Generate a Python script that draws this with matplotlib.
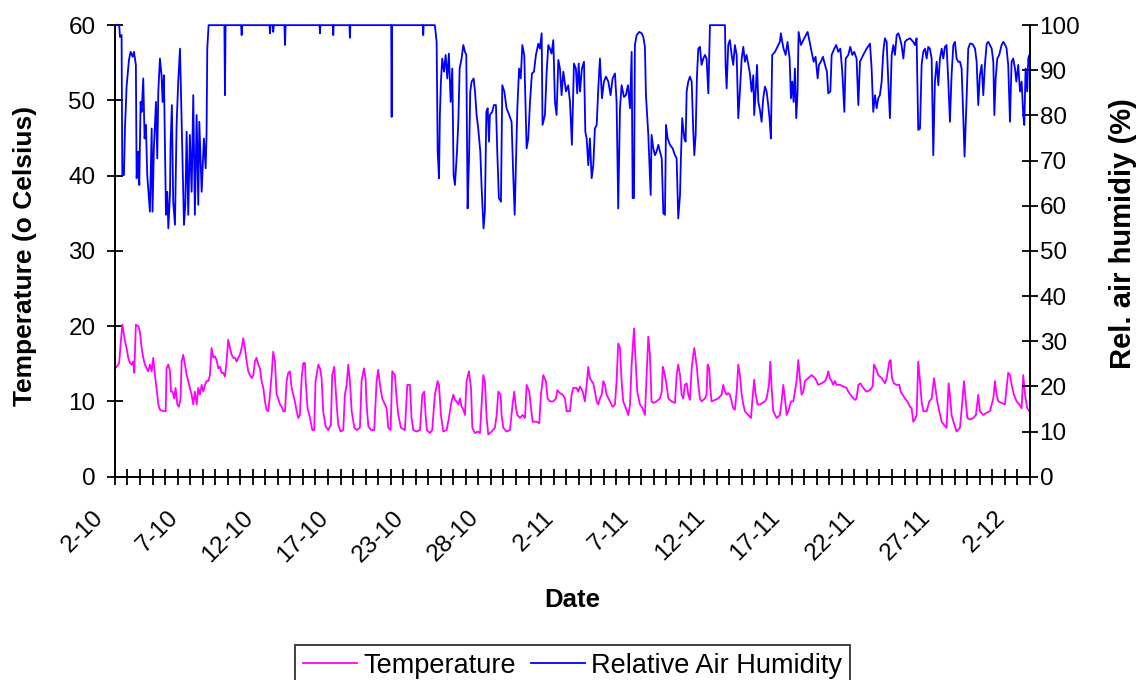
import numpy as np
import matplotlib
matplotlib.use('Agg')
import matplotlib.pyplot as plt
from matplotlib.transforms import ScaledTranslation

plt.rcParams['font.family'] = ['Liberation Sans', 'DejaVu Sans']

# readings; x = position along the date axis in days from 2-10
temp_day = [
    0.00, 0.11, 0.29, 0.38, 0.50, 0.56, 0.68, 0.79, 0.90, 1.02,
    1.13, 1.24, 1.31, 1.42, 1.58, 1.69, 1.81, 1.92, 2.03, 2.15,
    2.26, 2.37, 2.49, 2.60, 2.71, 2.82, 2.94, 3.05, 3.28, 3.44,
    3.50, 3.62, 3.73, 3.80, 3.91, 4.02, 4.11, 4.23, 4.34, 4.45,
    4.52, 4.63, 4.75, 4.86, 4.97, 5.08, 5.20, 5.31, 5.42, 5.54,
    5.65, 5.76, 5.88, 5.99, 6.10, 6.21, 6.33, 6.44, 6.55, 6.67,
    6.78, 6.89, 7.01, 7.12, 7.23, 7.34, 7.46, 7.57, 7.68, 7.80,
    7.91, 8.02, 8.14, 8.25, 8.36, 8.47, 8.59, 8.70, 8.81, 8.93,
    9.04, 9.15, 9.27, 9.38, 9.49, 9.60, 9.72, 9.83, 9.94, 10.06,
    10.17, 10.28, 10.40, 10.51, 10.62, 10.73, 10.85, 10.96, 11.07, 11.19,
    11.30, 11.41, 11.53, 11.64, 11.75, 11.86, 11.98, 12.09, 12.20, 12.32,
    12.43, 12.54, 12.66, 12.77, 12.88, 12.93, 13.06, 13.22, 13.38, 13.51,
    13.60, 13.79, 13.90, 14.01, 14.12, 14.28, 14.46, 14.64, 14.73, 14.87,
    14.96, 15.03, 15.14, 15.30, 15.48, 15.59, 15.71, 15.82, 15.93, 16.05,
    16.23, 16.38, 16.61, 16.72, 16.88, 16.99, 17.06, 17.18, 17.36, 17.58,
    17.74, 17.85, 17.97, 18.12, 18.26, 18.42, 18.53, 18.69, 18.80, 18.98,
    19.10, 19.21, 19.39, 19.66, 19.82, 20.00, 20.11, 20.23, 20.45, 20.68,
    20.84, 20.97, 21.06, 21.15, 21.36, 21.51, 21.69, 21.88, 21.97, 22.10,
    22.26, 22.49, 22.64, 22.82, 22.94, 23.05, 23.16, 23.28, 23.39, 23.50,
    23.62, 23.73, 23.84, 24.00, 24.14, 24.23, 24.41, 24.59, 24.75, 24.97,
    25.08, 25.20, 25.31, 25.54, 25.76, 25.88, 25.99, 26.15, 26.21, 26.33,
    26.55, 26.78, 26.96, 27.07, 27.19, 27.28, 27.46, 27.64, 27.80, 27.91,
    28.09, 28.18, 28.32, 28.59, 28.77, 28.88, 29.04, 29.22, 29.33, 29.49,
    29.72, 29.90, 29.99, 30.17, 30.35, 30.51, 30.62, 30.85, 30.96, 31.07,
    31.30, 31.41, 31.53, 31.71, 31.86, 31.98, 32.09, 32.20, 32.32, 32.43,
    32.54, 32.66, 32.77, 32.88, 33.00, 33.11, 33.22, 33.33, 33.56, 33.74,
    33.90, 34.01, 34.12, 34.24, 34.35, 34.46, 34.64, 34.80, 34.92, 35.03,
    35.19, 35.30, 35.41, 35.59, 35.77, 35.93, 36.05, 36.16, 36.27, 36.38,
    36.50, 36.72, 36.95, 37.07, 37.14, 37.23, 37.36, 37.52, 37.74, 37.97,
    38.08, 38.19, 38.31, 38.42, 38.53, 38.64, 38.76, 38.87, 38.98, 39.10,
    39.21, 39.28, 39.37, 39.46, 39.55, 39.66, 39.77, 40.00, 40.11, 40.18,
    40.29, 40.36, 40.45, 40.68, 40.90, 41.13, 41.24, 41.36, 41.47, 41.58,
    41.69, 41.81, 41.92, 42.03, 42.15, 42.26, 42.37, 42.49, 42.60, 42.71,
    42.94, 43.12, 43.21, 43.34, 43.44, 43.57, 43.73, 43.89, 44.07, 44.18,
    44.34, 44.43, 44.52, 44.63, 44.86, 45.08, 45.20, 45.31, 45.42, 45.54,
    45.65, 45.83, 45.99, 46.10, 46.21, 46.33, 46.44, 46.55, 46.67, 46.78,
    47.01, 47.23, 47.35, 47.46, 47.57, 47.68, 47.91, 48.14, 48.25, 48.36,
    48.47, 48.59, 48.70, 48.81, 48.93, 49.15, 49.38, 49.60, 49.72, 49.94,
    50.17, 50.28, 50.40, 50.55, 50.73, 50.96, 51.19, 51.37, 51.46, 51.59,
    51.75, 51.98, 52.20, 52.32, 52.50, 52.59, 52.68, 52.81, 52.99, 53.18,
    53.27, 53.40, 53.56, 53.72, 53.90, 54.01, 54.12, 54.24, 54.35, 54.46,
    54.58, 54.69, 54.80, 55.03, 55.21, 55.37, 55.53, 55.62, 55.75, 55.89,
    56.05, 56.20, 56.38, 56.52, 56.61, 56.72, 56.88, 57.06, 57.29, 57.47,
    57.56, 57.67, 57.79, 57.97, 58.19, 58.37, 58.53, 58.64, 58.87, 59.10,
    59.32, 59.55, 59.66, 59.77, 59.89, 60.11, 60.34, 60.45, 60.56, 60.68,
    60.79, 60.95, 61.13, 61.31, 61.47, 61.58, 61.70, 61.85, 61.99, 62.03,
]
temp_c = [
    14.4, 14.6, 15.1, 17.5, 20.2, 19.5, 18.0, 17.1, 15.8, 15.1,
    14.9, 15.3, 13.8, 20.2, 20.0, 19.3, 17.1, 15.8, 14.9, 14.4,
    14.0, 14.9, 14.0, 15.8, 13.5, 11.8, 9.6, 8.9, 8.7, 8.7,
    14.4, 14.9, 14.0, 11.3, 11.3, 10.4, 11.8, 9.6, 9.3, 10.4,
    15.3, 16.2, 14.9, 13.5, 12.7, 11.8, 10.9, 9.6, 11.3, 9.6,
    11.8, 10.9, 12.2, 11.3, 12.2, 12.7, 12.7, 13.5, 17.1, 15.8,
    16.0, 15.5, 14.4, 14.6, 13.8, 13.8, 13.3, 15.3, 18.2, 17.1,
    16.2, 15.8, 15.8, 15.3, 15.8, 16.2, 17.1, 18.4, 17.1, 15.3,
    14.0, 13.5, 13.1, 13.5, 15.3, 15.8, 14.9, 14.4, 12.7, 11.8,
    10.0, 8.9, 8.7, 10.9, 13.5, 16.6, 15.3, 10.9, 10.4, 9.6,
    9.3, 8.7, 8.7, 12.7, 13.8, 14.0, 11.8, 10.9, 10.0, 8.7,
    7.8, 8.2, 13.1, 15.1, 15.1, 12.7, 9.1, 7.8, 6.2, 6.2,
    12.7, 14.9, 14.4, 13.1, 8.7, 6.7, 6.2, 6.9, 13.5, 14.6,
    11.8, 9.6, 6.9, 6.0, 6.2, 10.9, 12.2, 14.9, 12.7, 8.7,
    6.5, 6.2, 6.5, 12.7, 14.4, 13.1, 9.6, 6.7, 6.2, 6.2,
    12.7, 14.2, 12.2, 10.4, 9.8, 9.1, 6.5, 6.2, 14.0, 13.5,
    10.4, 8.2, 6.5, 6.2, 12.2, 12.2, 7.8, 6.2, 6.0, 6.2,
    10.9, 11.3, 8.2, 6.2, 5.8, 6.2, 10.9, 12.7, 12.2, 8.2,
    6.0, 6.2, 7.8, 10.0, 10.9, 10.2, 10.0, 9.6, 10.4, 9.3,
    8.9, 8.2, 12.7, 14.0, 11.8, 6.5, 5.8, 6.0, 5.8, 13.5,
    12.7, 7.8, 5.6, 6.0, 6.5, 8.2, 11.3, 10.9, 8.2, 6.5,
    6.0, 6.2, 9.6, 11.3, 9.1, 8.2, 7.8, 8.2, 7.8, 12.2,
    11.3, 9.6, 7.3, 7.3, 7.1, 10.9, 13.5, 12.7, 10.4, 10.0,
    10.0, 10.4, 11.5, 11.1, 10.9, 10.4, 8.7, 8.7, 10.9, 11.8,
    11.8, 11.3, 12.0, 11.3, 10.0, 12.2, 14.6, 13.1, 12.7, 12.4,
    11.3, 10.0, 9.6, 10.4, 10.9, 12.7, 12.2, 10.9, 10.0, 9.3,
    9.6, 12.7, 17.7, 17.1, 12.7, 10.0, 9.1, 8.2, 9.6, 14.9,
    19.7, 15.3, 11.3, 9.6, 9.1, 8.2, 13.5, 18.6, 16.2, 10.0,
    9.8, 10.0, 10.4, 11.3, 14.6, 14.0, 12.7, 10.4, 10.0, 9.8,
    13.5, 14.9, 13.5, 10.9, 10.4, 12.2, 12.4, 10.9, 10.2, 14.4,
    16.2, 17.1, 15.8, 14.4, 12.2, 10.4, 10.0, 10.4, 10.9, 14.9,
    14.4, 11.8, 10.0, 10.2, 10.4, 10.9, 12.2, 11.3, 10.9, 11.1,
    10.9, 10.0, 9.1, 8.9, 11.3, 14.9, 13.5, 10.9, 9.6, 8.7,
    8.2, 7.8, 10.0, 12.9, 10.9, 9.6, 9.6, 9.8, 10.0, 10.4,
    12.2, 15.3, 11.8, 8.7, 7.8, 8.2, 10.0, 12.2, 10.4, 8.2,
    8.7, 10.0, 10.0, 11.3, 12.7, 15.5, 13.1, 10.9, 11.3, 12.7,
    13.1, 13.5, 13.3, 13.1, 12.7, 12.2, 12.4, 12.7, 13.1, 14.0,
    13.1, 12.7, 12.2, 12.7, 12.2, 12.2, 12.0, 11.8, 11.3, 10.7,
    10.2, 10.4, 12.2, 12.4, 11.8, 11.3, 11.5, 12.0, 14.9, 14.4,
    13.5, 13.1, 12.4, 13.1, 15.3, 15.5, 13.1, 12.4, 12.2, 12.2,
    11.3, 10.9, 10.4, 10.0, 9.3, 9.1, 7.3, 7.6, 8.2, 15.3,
    12.7, 10.0, 8.7, 8.7, 10.0, 10.4, 13.1, 11.8, 10.0, 8.7,
    7.3, 6.9, 6.5, 12.4, 10.9, 8.2, 7.1, 6.0, 6.5, 10.4,
    12.7, 10.4, 7.8, 7.6, 7.8, 8.2, 10.9, 8.7, 8.2, 8.5,
    8.7, 10.4, 12.7, 10.9, 10.0, 9.8, 9.6, 11.8, 13.8, 13.5,
    12.2, 10.9, 10.0, 9.6, 9.1, 13.5, 10.9, 9.1, 8.7, 8.7,
]

rh_day = [
    0.00, 0.29, 0.34, 0.45, 0.50, 0.61, 0.68, 0.79, 0.95, 1.06,
    1.20, 1.29, 1.42, 1.47, 1.58, 1.65, 1.74, 1.81, 1.92, 2.01,
    2.10, 2.19, 2.37, 2.49, 2.55, 2.64, 2.78, 2.87, 2.94, 3.05,
    3.16, 3.23, 3.32, 3.46, 3.55, 3.62, 3.73, 3.77, 3.86, 3.95,
    4.07, 4.18, 4.29, 4.41, 4.52, 4.68, 4.77, 4.86, 4.97, 5.08,
    5.20, 5.31, 5.42, 5.54, 5.65, 5.72, 5.88, 6.03, 6.15, 6.21,
    6.26, 6.35, 7.42, 7.46, 7.50, 8.55, 8.59, 8.63, 10.48, 10.51,
    10.55, 10.70, 10.73, 10.77, 11.49, 11.53, 11.57, 13.87, 13.90, 13.93,
    14.77, 14.80, 14.83, 15.90, 15.93, 15.96, 18.73, 18.76, 18.79, 20.87,
    20.90, 20.93, 21.69, 21.81, 21.88, 21.97, 22.03, 22.10, 22.19, 22.31,
    22.42, 22.53, 22.64, 22.76, 22.87, 22.96, 23.05, 23.19, 23.28, 23.37,
    23.50, 23.62, 23.73, 23.82, 23.91, 24.00, 24.09, 24.18, 24.32, 24.41,
    24.52, 24.63, 24.77, 24.86, 24.99, 25.08, 25.18, 25.27, 25.36, 25.42,
    25.58, 25.69, 25.83, 25.92, 26.03, 26.17, 26.26, 26.40, 26.55, 26.73,
    26.89, 27.01, 27.10, 27.19, 27.28, 27.40, 27.51, 27.62, 27.75, 27.91,
    28.02, 28.14, 28.27, 28.41, 28.54, 28.70, 28.81, 28.93, 28.99, 29.15,
    29.27, 29.38, 29.49, 29.60, 29.72, 29.83, 29.94, 30.06, 30.17, 30.28,
    30.40, 30.58, 30.73, 30.85, 30.98, 31.12, 31.25, 31.34, 31.44, 31.53,
    31.66, 31.80, 31.89, 31.98, 32.09, 32.20, 32.32, 32.43, 32.54, 32.66,
    32.77, 32.88, 33.02, 33.15, 33.29, 33.45, 33.60, 33.74, 33.90, 34.01,
    34.12, 34.24, 34.35, 34.51, 34.64, 34.78, 34.92, 35.03, 35.10, 35.19,
    35.25, 35.37, 35.55, 35.71, 35.82, 35.93, 36.00, 36.16, 36.32, 36.38,
    36.50, 36.61, 36.72, 36.84, 36.95, 37.07, 37.18, 37.29, 37.36, 37.47,
    37.63, 37.81, 37.97, 38.08, 38.19, 38.31, 38.37, 38.46, 38.60, 38.69,
    38.76, 38.87, 38.98, 39.10, 39.21, 39.28, 39.37, 39.46, 39.55, 39.66,
    39.77, 39.89, 40.00, 40.11, 40.23, 40.34, 41.36, 41.40, 41.47, 41.58,
    41.69, 41.81, 41.92, 42.03, 42.15, 42.26, 42.37, 42.49, 42.60, 42.71,
    42.82, 42.94, 43.05, 43.16, 43.28, 43.34, 43.44, 43.53, 43.62, 43.73,
    43.84, 43.95, 44.07, 44.18, 44.29, 44.38, 44.47, 44.56, 44.75, 44.97,
    45.08, 45.15, 45.24, 45.33, 45.47, 45.60, 45.74, 45.83, 45.92, 46.01,
    46.10, 46.19, 46.28, 46.35, 46.51, 46.67, 46.78, 46.96, 47.10, 47.23,
    47.37, 47.50, 47.64, 47.73, 47.86, 48.00, 48.14, 48.27, 48.36, 48.50,
    48.59, 48.77, 48.90, 49.04, 49.18, 49.31, 49.45, 49.54, 49.72, 49.85,
    49.99, 50.12, 50.28, 50.40, 50.51, 50.73, 50.96, 51.19, 51.30, 51.41,
    51.53, 51.64, 51.75, 51.86, 51.98, 52.09, 52.20, 52.32, 52.43, 52.54,
    52.66, 52.77, 52.88, 53.00, 53.11, 53.22, 53.33, 53.45, 53.56, 53.67,
    53.90, 54.12, 54.24, 54.35, 54.46, 54.58, 54.69, 54.80, 54.92, 55.03,
    55.14, 55.25, 55.37, 55.48, 55.59, 55.71, 55.82, 55.93, 56.05, 56.16,
    56.27, 56.38, 56.50, 56.61, 56.72, 56.84, 56.95, 57.06, 57.18, 57.29,
    57.40, 57.51, 57.60, 57.74, 57.85, 57.97, 58.08, 58.19, 58.31, 58.42,
    58.53, 58.64, 58.76, 58.87, 58.98, 59.10, 59.21, 59.32, 59.44, 59.55,
    59.62, 59.71, 59.82, 59.95, 60.11, 60.23, 60.36, 60.45, 60.56, 60.68,
    60.79, 60.90, 61.02, 61.11, 61.24, 61.36, 61.47, 61.58, 61.65, 61.74,
    61.85, 61.92, 61.99, 62.03,
]
rh_pct = [
    100, 100, 97.4, 97.8, 66.8, 66.8, 77.1, 86.4, 92.3, 94.1,
    93.0, 94.1, 91.2, 66.1, 72.0, 64.6, 83.0, 80.8, 88.2, 74.9,
    77.9, 66.8, 58.7, 77.1, 58.7, 72.7, 83.0, 70.5, 85.3, 92.6,
    88.9, 83.0, 88.9, 58.0, 63.1, 55.0, 62.4, 73.5, 82.3, 60.9,
    55.8, 77.9, 87.5, 94.8, 78.6, 55.8, 60.2, 76.4, 58.0, 75.7,
    63.1, 84.5, 58.0, 80.1, 60.2, 78.6, 63.1, 74.9, 68.3, 75.7,
    94.8, 100, 100, 84.5, 100, 100, 97.8, 100, 100, 98.2,
    100, 100, 98.5, 100, 100, 95.6, 100, 100, 98.2, 100,
    100, 97.8, 100, 100, 97.2, 100, 100, 79.7, 100, 100,
    97.8, 100, 100, 96.3, 72.0, 66.1, 80.1, 87.5, 92.6, 89.7,
    93.4, 88.2, 93.7, 83.0, 90.4, 66.8, 64.6, 72.0, 78.6, 90.4,
    92.6, 95.6, 94.1, 93.4, 59.4, 69.8, 85.3, 87.5, 88.2, 85.3,
    80.1, 77.1, 72.0, 63.9, 55.0, 58.7, 80.8, 81.6, 74.2, 80.1,
    80.8, 82.3, 82.3, 72.0, 61.7, 60.9, 86.7, 85.3, 81.6, 80.1,
    78.6, 66.1, 58.0, 69.8, 81.6, 90.4, 88.2, 95.6, 93.4, 72.7,
    74.9, 83.0, 89.3, 89.7, 93.4, 95.9, 94.8, 98.2, 77.9, 80.1,
    89.7, 95.6, 94.8, 93.7, 96.7, 83.0, 80.1, 92.3, 90.4, 84.5,
    89.7, 85.3, 86.7, 83.0, 73.5, 91.5, 90.4, 84.9, 91.5, 85.3,
    90.4, 91.9, 76.4, 74.9, 69.0, 74.9, 66.1, 69.0, 77.1, 77.9,
    86.0, 92.6, 83.8, 87.5, 88.6, 87.5, 84.5, 88.2, 89.3, 83.0,
    59.4, 81.6, 86.7, 84.1, 84.5, 86.7, 81.6, 94.1, 61.7, 61.7,
    95.6, 97.8, 98.5, 98.2, 97.4, 95.2, 84.5, 75.7, 62.4, 75.7,
    72.7, 71.2, 72.0, 73.5, 72.0, 70.5, 58.3, 58.0, 77.9, 74.9,
    73.5, 72.7, 71.2, 70.5, 57.2, 62.4, 70.5, 79.4, 74.9, 74.2,
    85.3, 87.5, 88.6, 87.5, 76.4, 71.2, 75.7, 88.9, 94.8, 95.2,
    91.2, 92.6, 93.4, 92.6, 84.9, 100, 100, 91.2, 86.0, 95.6,
    96.7, 93.4, 91.2, 95.6, 93.4, 79.4, 85.3, 92.6, 95.2, 91.9,
    93.4, 91.2, 89.3, 85.3, 88.9, 80.1, 85.3, 91.2, 83.0, 81.2,
    78.6, 83.8, 86.4, 85.3, 82.3, 79.4, 74.9, 93.4, 94.1, 95.6,
    96.3, 98.2, 96.3, 94.8, 93.4, 96.3, 92.6, 83.8, 87.5, 83.0,
    90.4, 79.4, 85.3, 98.5, 95.6, 96.7, 97.4, 98.5, 96.3, 94.1,
    91.9, 93.0, 88.2, 91.2, 91.9, 93.0, 91.2, 89.7, 84.9, 85.3,
    93.4, 94.8, 95.6, 94.1, 94.8, 89.7, 80.8, 92.6, 93.4, 95.2,
    93.4, 94.1, 92.6, 82.3, 91.9, 93.4, 94.8, 95.9, 90.4, 80.8,
    84.5, 81.6, 83.8, 84.5, 87.5, 94.1, 97.1, 96.3, 87.5, 79.4,
    93.4, 95.6, 93.4, 97.8, 98.2, 97.1, 95.6, 92.6, 96.3, 96.7,
    97.1, 96.3, 95.6, 97.1, 76.8, 77.1, 91.2, 94.1, 94.8, 92.6,
    95.2, 94.8, 92.6, 71.2, 87.5, 91.9, 86.7, 92.6, 94.8, 92.6,
    95.2, 95.6, 87.5, 78.6, 88.9, 95.6, 96.3, 92.6, 91.9, 91.9,
    90.4, 80.1, 70.9, 83.8, 94.8, 95.9, 95.9, 95.6, 94.8, 91.9,
    82.3, 88.9, 91.2, 84.5, 91.2, 95.9, 96.3, 95.6, 94.8, 91.9,
    80.1, 88.2, 92.6, 93.4, 95.6, 96.3, 95.6, 94.8, 91.2, 78.6,
    91.9, 92.6, 90.4, 87.5, 91.2, 85.3, 87.5, 80.1, 77.9, 90.4,
    85.3, 92.6, 93.4, 93.4,
]

date_labels = ['2-10', '7-10', '12-10', '17-10', '23-10', '28-10', '2-11',
               '7-11', '12-11', '17-11', '22-11', '27-11', '2-12']
x_end = 62.03      # right end of the date axis
n_tick_steps = 73  # tick marks along the date axis, a label on every 6th

fig = plt.figure(figsize=(11.38, 6.8), dpi=100)
ax = fig.add_axes([0.101, 0.299, 0.804, 0.664])
ax2 = ax.twinx()

l1, = ax.plot(temp_day, temp_c, color='#ff00ff', lw=1.3, clip_on=False,
              label='Temperature')
l2, = ax2.plot(rh_day, rh_pct, color='#0000ff', lw=1.3, clip_on=False,
               label='Relative Air Humidity')

ax.set_xlim(0, x_end)
ax.set_ylim(0, 60)
ax2.set_ylim(0, 100)
ax.set_yticks(range(0, 61, 10))
ax2.set_yticks(range(0, 101, 10))

tick_pos = np.linspace(0, x_end, n_tick_steps + 1)
ax.set_xticks(tick_pos, minor=True)
ax.set_xticks(tick_pos[::6])
ax.set_xticklabels(date_labels, rotation=45, ha='right', va='top',
                   rotation_mode='anchor')

for a in (ax, ax2):
    a.spines['top'].set_visible(False)
    for s in a.spines.values():
        s.set_linewidth(1.4)
ax.spines['right'].set_visible(False)
ax2.spines['left'].set_visible(False)
ax2.spines['bottom'].set_visible(False)

ax.tick_params(axis='both', which='both', direction='inout', length=11,
               width=1.3, labelsize=17.5)
ax.tick_params(axis='x', which='major', pad=16)
ax.tick_params(axis='y', pad=8.5)
ax2.tick_params(axis='y', direction='inout', length=11, width=1.3,
                labelsize=17.5, pad=1.5)

shift = ScaledTranslation(-23 / 100, 0, fig.dpi_scale_trans)
for lbl in ax.get_xticklabels():
    lbl.set_transform(lbl.get_transform() + shift)

fig.text(0.022, 0.624, 'Temperature (o Celsius)', rotation=90, ha='center',
         va='center', fontsize=19, fontweight='bold')
fig.text(0.987, 0.657, 'Rel. air humidiy (%)', rotation=90, ha='center',
         va='center', fontsize=21, fontweight='bold')
fig.text(0.503, 0.118, 'Date', ha='center', va='center', fontsize=18.5,
         fontweight='bold')

leg = fig.legend([l1, l2], ['Temperature', 'Relative Air Humidity'],
                 loc='upper center', bbox_to_anchor=(0.503, 0.052), ncol=2,
                 frameon=True, fancybox=False, fontsize=19.5, handlelength=2.0,
                 handletextpad=0.22, columnspacing=0.55, borderpad=0.3,
                 borderaxespad=0)
leg.get_frame().set_edgecolor('black')
leg.get_frame().set_linewidth(1.3)

fig.savefig('out.png', dpi=100)
